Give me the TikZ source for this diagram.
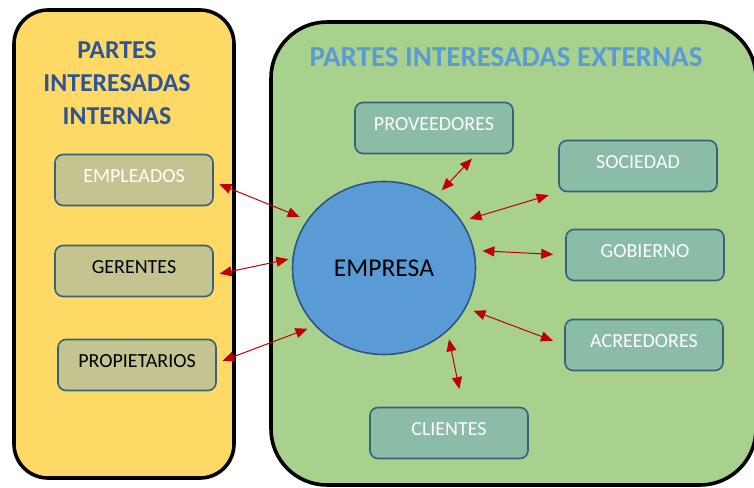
\documentclass[tikz,border=0pt]{standalone}
\usepackage{fontspec}
\setmainfont{Carlito}
\usepackage{xcolor}
\usetikzlibrary{shapes, arrows.meta, positioning}

\definecolor{panelyellow}{HTML}{FFD966}
\definecolor{panelgreen}{HTML}{A9D18E}
\definecolor{boxkhaki}{HTML}{C5C38F}
\definecolor{boxteal}{HTML}{8BBCA6}
\definecolor{boxline}{HTML}{35627C}
\definecolor{circblue}{HTML}{5B9BD5}
\definecolor{circline}{HTML}{2C5782}
\definecolor{titledark}{HTML}{2F5597}
\definecolor{titlelight}{HTML}{5B9BD5}
\definecolor{arrowred}{HTML}{C00000}

\begin{document}
\begin{tikzpicture}[x=0.5pt, y=-0.5pt,
    panel/.style={draw=black, line width=1.8pt},
    inbox/.style={rectangle, rounded corners=4pt, draw=boxline, line width=0.8pt, fill=boxkhaki,
        minimum width=79pt, minimum height=25.5pt, text height=7pt, text depth=5pt,
        font=\fontsize{10}{12}\selectfont},
    exbox/.style={inbox, fill=boxteal, text=white},
    link/.style={<->, >={Triangle[length=6pt,width=5pt]}, draw=arrowred, line width=0.5pt,
        shorten <=3pt, shorten >=4pt}]
        \useasboundingbox (0,0) rectangle (754,487);
        % the two panels
        \draw [panel, fill=panelyellow, rounded corners=17pt] (14,10) rectangle (234,478);
        \draw [panel, fill=panelgreen, rounded corners=28pt] (271,22) rectangle (756,485);
        \node [align=center, text=titledark, font=\fontsize{12.9}{16.5}\selectfont\bfseries] (titint) at (117,83)
            {PARTES\\INTERESADAS\\INTERNAS};
        \node [text=titlelight, font=\fontsize{14.5}{16}\selectfont\bfseries] (titext) at (506,57)
            {PARTES INTERESADAS EXTERNAS};
        % internal stakeholders
        \node [inbox, text=white] (empleados) at (134,180) {EMPLEADOS};
        \node [inbox] (gerentes) at (134,271) {GERENTES};
        \node [inbox] (propietarios) at (137,365) {PROPIETARIOS};
        % the company
        \node [ellipse, draw=circline, line width=0.8pt, fill=circblue, minimum width=91.5pt,
            minimum height=86.5pt, font=\fontsize{12.8}{14}\selectfont] (empresa) at (384,268) {EMPRESA};
        % external stakeholders
        \node [exbox] (proveedores) at (434,128) {PROVEEDORES};
        \node [exbox] (sociedad) at (638,166) {SOCIEDAD};
        \node [exbox] (gobierno) at (645,255) {GOBIERNO};
        \node [exbox] (acreedores) at (644,345) {ACREEDORES};
        \node [exbox] (clientes) at (449,433) {CLIENTES};
        % arrows
        \draw [link] ([yshift=-1pt]empleados.east) -- (empresa.148);
        \draw [link, shorten >=2pt] ([yshift=-2pt]gerentes.east) -- (empresa.174);
        \draw [link] ([yshift=1pt]propietarios.east) -- (empresa.220);
        \draw [link] ([xshift=21pt]proveedores.south) -- (empresa.54);
        \draw [link, shorten <=5pt] (sociedad.south west) -- (empresa.31);
        \draw [link, shorten <=6pt] (gobierno.west) -- (empresa.11);
        \draw [link, shorten <=6pt] (acreedores.west) -- (empresa.334);
        \draw [link, shorten <=9pt] ([xshift=7pt]clientes.north) -- (empresa.315);
    \end{tikzpicture}
\end{document}
